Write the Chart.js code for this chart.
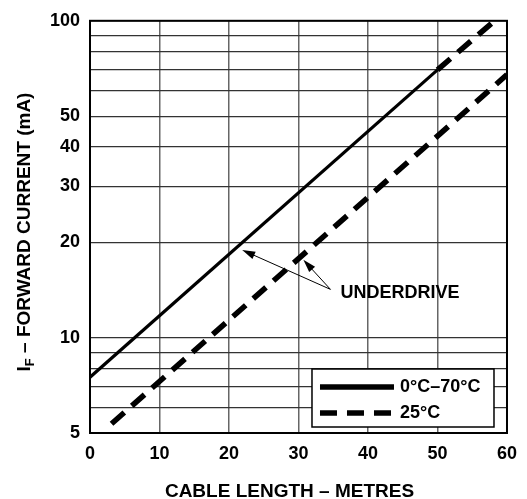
<!DOCTYPE html>
<html>
<head>
<meta charset="utf-8">
<script src="https://cdn.jsdelivr.net/npm/chart.js@4/dist/chart.umd.min.js"></script>
<style>
  html, body { margin: 0; padding: 0; background: #fff; }
  #wrap { width: 527px; height: 499px; }
</style>
</head>
<body>
<div id="wrap"><canvas id="myChart"></canvas></div>
<script>
// data
const solidX = [0, 50, 58.2];          // 0°C–70°C, last segment drawn dashed
const solidY = [7.5, 70, 100];
const dashX = [3.1, 60];               // 25°C
const dashY = [5.35, 67.6];
const xTicks = [0, 10, 20, 30, 40, 50, 60];
const yGrid = [5, 6, 7, 8, 9, 10, 20, 30, 40, 50, 60, 70, 80, 90, 100];
const yLabels = [5, 10, 20, 30, 40, 50, 100];
const legendLabels = ['0°C–70°C', '25°C'];
const noteText = 'UNDERDRIVE';
const noteTips = [[21.9, 18.9], [30.7, 17.6]];
const noteTail = [34.6, 14.2];

const FONT = '"Liberation Sans", Arial, sans-serif';
const DASH = [17, 10];

const toPts = (xs, ys) => xs.map((x, i) => ({x: x, y: ys[i]}));

const extras = {
  id: 'extras',
  afterDraw(chart) {
    const c = chart.ctx, a = chart.chartArea;
    const sx = chart.scales.x, sy = chart.scales.y;
    c.save();
    // frame
    c.strokeStyle = '#000';
    c.lineWidth = 2;
    c.strokeRect(a.left, a.top, a.right - a.left, a.bottom - a.top);

    // underdrive arrows
    const tx = sx.getPixelForValue(noteTail[0]), ty = sy.getPixelForValue(noteTail[1]);
    c.lineWidth = 1;
    c.fillStyle = '#000';
    noteTips.forEach(p => {
      const px = sx.getPixelForValue(p[0]), py = sy.getPixelForValue(p[1]);
      const ang = Math.atan2(py - ty, px - tx);
      c.beginPath();
      c.moveTo(tx, ty);
      c.lineTo(px - 10 * Math.cos(ang), py - 10 * Math.sin(ang));
      c.stroke();
      c.beginPath();
      c.moveTo(px, py);
      c.lineTo(px - 13 * Math.cos(ang) + 4 * Math.sin(ang), py - 13 * Math.sin(ang) - 4 * Math.cos(ang));
      c.lineTo(px - 13 * Math.cos(ang) - 4 * Math.sin(ang), py - 13 * Math.sin(ang) + 4 * Math.cos(ang));
      c.closePath();
      c.fill();
    });
    c.font = 'bold 18px ' + FONT;
    c.textAlign = 'left';
    c.textBaseline = 'alphabetic';
    c.fillText(noteText, tx + 10, ty + 9);

    // legend box
    const lx = a.right - 195, ly = a.bottom - 64, lw = 182, lh = 58;
    c.fillStyle = '#fff';
    c.fillRect(lx, ly, lw, lh);
    c.strokeStyle = '#000';
    c.lineWidth = 1.5;
    c.strokeRect(lx, ly, lw, lh);
    c.lineCap = 'butt';
    c.beginPath();
    c.lineWidth = 5.5;
    c.moveTo(lx + 8, ly + 18); c.lineTo(lx + 82, ly + 18);
    c.stroke();
    c.beginPath();
    c.setLineDash(DASH);
    c.moveTo(lx + 8, ly + 44); c.lineTo(lx + 80, ly + 44);
    c.stroke();
    c.setLineDash([]);
    c.fillStyle = '#000';
    c.font = 'bold 18px ' + FONT;
    c.textBaseline = 'middle';
    c.fillText(legendLabels[0], lx + 88, ly + 18);
    c.fillText(legendLabels[1], lx + 88, ly + 44);

    // axis titles
    c.textAlign = 'center';
    c.textBaseline = 'alphabetic';
    c.font = 'bold 19px ' + FONT;
    c.fillText('CABLE LENGTH – METRES', (a.left + a.right) / 2 - 9, 497);

    c.translate(30, 232);
    c.rotate(-Math.PI / 2);
    const rest = ' – FORWARD CURRENT (mA)';
    c.font = 'bold 19px ' + FONT;
    const wI = c.measureText('I').width;
    c.font = 'bold 13px ' + FONT;
    const wF = c.measureText('F').width;
    c.font = 'bold 19px ' + FONT;
    const wR = c.measureText(rest).width;
    let x0 = -(wI + wF + wR) / 2;
    c.textAlign = 'left';
    c.fillText('I', x0, 0);
    c.font = 'bold 13px ' + FONT;
    c.fillText('F', x0 + wI, 4);
    c.font = 'bold 19px ' + FONT;
    c.fillText(rest, x0 + wI + wF, 0);
    c.restore();
  }
};

const config = {
  type: 'line',
  data: {
    datasets: [{
      label: legendLabels[0],
      data: toPts(solidX, solidY),
      borderColor: '#000',
      borderWidth: 3.2,
      pointRadius: 0,
      tension: 0,
      segment: {
        borderDash: ctx => ctx.p0DataIndex >= 1 ? DASH : undefined,
        borderWidth: ctx => ctx.p0DataIndex >= 1 ? 5.5 : 3.2
      }
    }, {
      label: legendLabels[1],
      data: toPts(dashX, dashY),
      borderColor: '#000',
      borderWidth: 5.5,
      borderDash: DASH,
      pointRadius: 0,
      tension: 0
    }]
  },
  options: {
    responsive: true,
    maintainAspectRatio: false,
    animation: false,
    layout: { padding: { top: 14, right: 17, left: 0, bottom: 0 } },
    plugins: { legend: { display: false }, tooltip: { enabled: false } },
    scales: {
      x: {
        type: 'linear',
        min: 0, max: 60,
        afterBuildTicks: s => { s.ticks = xTicks.map(v => ({value: v})); },
        afterFit: s => { s.height = 66; },
        grid: { color: '#666', lineWidth: 1.5, drawTicks: false },
        border: { display: false },
        ticks: {
          color: '#000', padding: 10,
          font: { family: FONT, size: 18, weight: 'bold' },
          maxRotation: 0
        }
      },
      y: {
        type: 'logarithmic',
        min: 5, max: 100,
        afterBuildTicks: s => { s.ticks = yGrid.map(v => ({value: v})); },
        afterFit: s => { s.width = 90; },
        grid: { color: '#333', lineWidth: 1.2, drawTicks: false },
        border: { display: false },
        ticks: {
          color: '#000', padding: 10,
          font: { family: FONT, size: 18, weight: 'bold' },
          autoSkip: false,
          callback: v => yLabels.includes(v) ? String(v) : ''
        }
      }
    }
  },
  plugins: [extras]
};

const ctx = document.getElementById('myChart').getContext('2d');
new Chart(ctx, config);
</script>
</body>
</html>
